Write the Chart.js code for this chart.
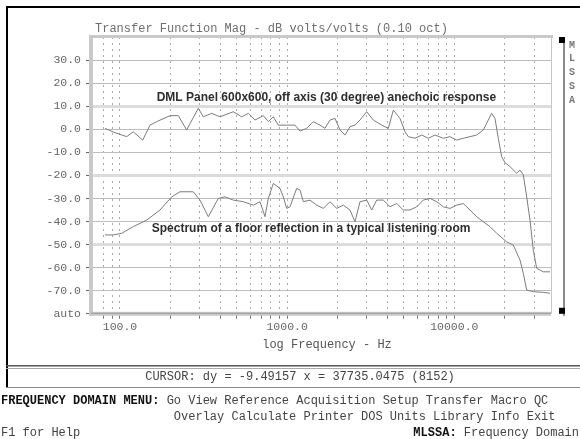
<!DOCTYPE html>
<html>
<head>
<meta charset="utf-8">
<script src="https://cdn.jsdelivr.net/npm/chart.js@4.4.1/dist/chart.umd.min.js"></script>
<style>
  html,body{margin:0;padding:0;background:#fff;}
  #wrap{position:relative;width:580px;height:439px;overflow:hidden;}
  canvas{display:block;}
</style>
</head>
<body>
<div id="wrap"><canvas id="c" width="580" height="439"></canvas></div>
<script>
// ---- data ----
const titleText = "Transfer Function Mag - dB volts/volts (0.10 oct)";
const xAxisTitle = "log Frequency - Hz";
const xGridHz = [80, 90, 100, 200, 300, 400, 500, 600, 700, 800, 900,
                 1000, 2000, 3000, 4000, 5000, 6000, 7000, 8000, 9000,
                 10000, 20000, 30000];
const xLabelHz = [100, 1000, 10000];
const yTickDb = [30, 20, 10, 0, -10, -20, -30, -40, -50, -60, -70, -80];

const anechoicHz = [81.3, 93.3, 109.7, 120.1, 136.7, 151.2, 165.8, 199.2, 223.3, 250.6, 294.1, 315.1, 353.8, 396.6, 476.1, 534.8, 585.6, 642.2, 720.2, 771.5, 826.4, 885.3, 993.8, 1114, 1194, 1309, 1434, 1572, 1684, 1805, 1934, 2071, 2219, 2377, 2546, 2729, 2992, 3277, 3679, 4030, 4318, 4733, 5072, 5307, 5820, 6383, 6991, 7665, 8598, 9426, 10337, 11320, 12416, 13614, 14913, 15976, 16742, 17521, 18336, 19212, 20111, 21540, 23625, 24727, 25878, 27115, 28380, 29697, 31123, 34085, 37390];
const anechoicDb = [0.4, -1.5, -3.2, -1.1, -4.7, 1.8, 3.3, 5.9, 5.9, -0.3, 9.1, 5.4, 6.9, 5.4, 7.6, 5.4, 6.9, 4.0, 5.9, 3.3, 5.4, 1.8, 1.8, 1.8, -0.8, 0.4, 3.3, 1.8, 0.4, 4.0, 4.7, -0.3, -2.5, 1.1, 1.8, 4.0, 7.6, 4.0, 1.8, 0.4, 8.3, 4.7, -1.1, -3.2, -3.9, -2.5, -3.9, -2.5, -3.9, -3.2, -4.7, -3.9, -3.2, -2.5, -0.3, 4.0, 6.9, 4.7, -3.9, -11.9, -14.5, -16.2, -19.1, -17.7, -19.8, -29.3, -39.4, -52.4, -60.3, -61.8, -61.8];

const floorHz = [81.3, 91.2, 102.4, 120.1, 144.4, 173.5, 203.9, 228.6, 274.5, 301.0, 337.5, 387.4, 424.8, 476.1, 546.8, 627.5, 688.1, 737.0, 771.5, 826.4, 906.2, 948.4, 993.8, 1040, 1141, 1194, 1250, 1370, 1503, 1646, 1805, 1979, 2168, 2377, 2546, 2729, 2992, 3205, 3435, 3760, 4124, 4523, 4954, 5433, 5959, 6526, 7157, 7849, 8598, 9426, 10337, 11320, 12416, 13614, 14913, 16355, 17936, 20579, 22542, 24727, 25878, 27115, 29697, 34085, 37390];
const floorDb = [-45.8, -45.8, -45.1, -42.2, -39.4, -35, -29.3, -27.1, -27.1, -30.7, -37.9, -30, -29.3, -30.7, -31.4, -32.9, -31.4, -37.9, -30, -23.5, -25.6, -29.3, -34.3, -33.6, -25.6, -26.4, -31.4, -30.7, -32.9, -34.3, -31.4, -34.3, -32.9, -35, -40.1, -31.4, -30.7, -35, -30.7, -30.7, -33.6, -32.2, -35, -35, -33.6, -30.7, -30, -31.4, -33.6, -34.3, -32.9, -32.2, -35, -37.9, -40.1, -42.2, -45.1, -48.8, -50.2, -56.7, -62.5, -69.7, -70.4, -70.7, -71.1];

const annotationTexts = [
  "DML Panel 600x600, off axis (30 degree) anechoic response",
  "Spectrum of a floor reflection in a typical listening room"
];
const annotationHz = [165.8, 154.8];
const annotationDb = [13.5, -43];

const cursorText = "CURSOR: dy = -9.49157 x = 37735.0475 (8152)";
const menuHead = "FREQUENCY DOMAIN MENU:";
const menuLine1 = " Go View Reference Acquisition Setup Transfer Macro QC";
const menuLine2 = "Overlay Calculate Printer DOS Units Library Info Exit";
const helpText = "F1 for Help";
const statusHead = "MLSSA:";
const statusText = " Frequency Domain";
const sideLetters = ["M", "L", "S", "S", "A"];

// ---- chart ----
const MONO = '"Liberation Mono", "DejaVu Sans Mono", monospace';
const SANS = '"Liberation Sans", Arial, sans-serif';

const decorPlugin = {
  id: 'decor',
  afterDraw(chart) {
    const ctx = chart.ctx;
    const a = chart.chartArea;
    const xs = chart.scales.x, ys = chart.scales.y;
    ctx.save();
    // outer DOS window frame
    ctx.fillStyle = '#000';
    ctx.fillRect(6, 6, 574, 2);
    ctx.fillRect(6, 6, 2, 382);
    // plot frame bands
    ctx.fillStyle = '#c9c9c9';
    ctx.fillRect(a.left - 3, a.top - 2, a.right - a.left + 5, 3);
    ctx.fillRect(a.left - 3, a.top - 2, 4, a.bottom - a.top + 4);
    ctx.fillRect(a.left - 3, a.bottom - 2, a.right - a.left + 3, 4);
    ctx.fillStyle = '#9a9a9a';
    ctx.fillRect(a.left - 1, a.bottom - 1, a.right - a.left + 1, 1);
    ctx.fillStyle = '#c6c6c6';
    ctx.fillRect(a.right, a.top, 1, a.bottom - a.top);
    // right scroll bar
    ctx.fillStyle = '#8a8a8a';
    ctx.fillRect(a.right + 12, a.top, 2, a.bottom - a.top + 2);
    ctx.fillStyle = '#000';
    ctx.fillRect(a.right + 8, a.top, 6, 6);
    ctx.fillRect(a.right + 8, a.bottom - 6, 6, 6);
    // side letters
    ctx.fillStyle = '#777';
    ctx.font = 'bold 10px ' + MONO;
    ctx.textAlign = 'center';
    ctx.textBaseline = 'middle';
    sideLetters.forEach((s, i) => ctx.fillText(s, a.right + 21, 45 + i * 13.75));
    // title
    ctx.fillStyle = '#6e6e6e';
    ctx.font = '12px ' + MONO;
    ctx.textAlign = 'left';
    ctx.fillText(titleText, 95, 28.5);
    // x axis title
    ctx.textAlign = 'center';
    ctx.fillStyle = '#555';
    ctx.fillText(xAxisTitle, 327, 345);
    // annotations positioned through the scales
    ctx.fillStyle = '#2e2e2e';
    ctx.font = 'bold 12px ' + SANS;
    ctx.textAlign = 'left';
    annotationTexts.forEach((t, i) => {
      ctx.fillText(t, xs.getPixelForValue(annotationHz[i]), ys.getPixelForValue(annotationDb[i]));
    });
    // separators
    ctx.fillStyle = '#555';
    ctx.fillRect(6, 365, 574, 1.5);
    ctx.fillStyle = '#aaa';
    ctx.fillRect(6, 368, 574, 1);
    ctx.fillStyle = '#888';
    ctx.fillRect(6, 387, 574, 1);
    // cursor line
    ctx.font = '12px ' + MONO;
    ctx.fillStyle = '#444';
    ctx.textAlign = 'center';
    ctx.fillText(cursorText, 300, 377);
    // menu
    ctx.textAlign = 'left';
    ctx.font = 'bold 12px ' + MONO;
    ctx.fillStyle = '#111';
    ctx.fillText(menuHead, 1, 401);
    const hw = ctx.measureText(menuHead).width;
    ctx.font = '12px ' + MONO;
    ctx.fillStyle = '#444';
    ctx.fillText(menuLine1, 1 + hw, 401);
    ctx.fillText(menuLine2, 1 + hw + ctx.measureText(' ').width * 2, 417);
    ctx.fillText(helpText, 1, 433);
    ctx.font = 'bold 12px ' + MONO;
    ctx.fillStyle = '#111';
    const sw = ctx.measureText(statusHead).width;
    ctx.font = '12px ' + MONO;
    const tw = ctx.measureText(statusText).width;
    const sx = 579 - sw - tw;
    ctx.font = 'bold 12px ' + MONO;
    ctx.fillText(statusHead, sx, 433);
    ctx.font = '12px ' + MONO;
    ctx.fillStyle = '#444';
    ctx.fillText(statusText, sx + sw, 433);
    ctx.restore();
  }
};

const ctx = document.getElementById('c').getContext('2d');
new Chart(ctx, {
  type: 'line',
  data: {
    datasets: [
      {
        label: 'Anechoic response',
        data: anechoicHz.map((f, i) => ({x: f, y: anechoicDb[i]})),
        borderColor: '#7c7c7c', borderWidth: 1, pointRadius: 0, tension: 0, fill: false
      },
      {
        label: 'Floor reflection',
        data: floorHz.map((f, i) => ({x: f, y: floorDb[i]})),
        borderColor: '#7c7c7c', borderWidth: 1, pointRadius: 0, tension: 0, fill: false
      }
    ]
  },
  options: {
    responsive: false,
    animation: false,
    events: [],
    layout: {padding: {top: 37, right: 29, left: 0, bottom: 0}},
    plugins: {legend: {display: false}, tooltip: {enabled: false}, title: {display: false}},
    scales: {
      x: {
        type: 'logarithmic',
        min: 68, max: 37900,
        afterBuildTicks: s => { s.ticks = xGridHz.map(v => ({value: v})); },
        afterFit: s => { s.height = 125.2; },
        border: {display: false, dash: [2, 4]},
        grid: {color: '#ababab', lineWidth: 1, tickLength: 5, tickColor: '#777', tickBorderDash: [], drawTicks: true},
        ticks: {
          autoSkip: false, maxRotation: 0, minRotation: 0, padding: 1,
          color: '#666', font: {family: MONO, size: 11.5},
          callback: v => xLabelHz.includes(v) ? v.toFixed(1) : ''
        }
      },
      y: {
        type: 'linear',
        min: -80, max: 40,
        afterBuildTicks: s => { s.ticks = yTickDb.map(v => ({value: v})); },
        afterFit: s => { s.width = 92; },
        border: {display: false},
        grid: {
          color: c => [10, -20, -50].includes(c.tick && c.tick.value) ? '#dcdcdc' : '#bdbdbd',
          lineWidth: c => [10, -20, -50].includes(c.tick && c.tick.value) ? 3 : 1,
          tickLength: 6, tickColor: '#666', tickWidth: 1
        },
        ticks: {
          padding: 5, color: '#666', font: {family: MONO, size: 11.5},
          callback: v => v === -80 ? 'auto' : v.toFixed(1)
        }
      }
    }
  },
  plugins: [decorPlugin]
});
</script>
</body>
</html>
